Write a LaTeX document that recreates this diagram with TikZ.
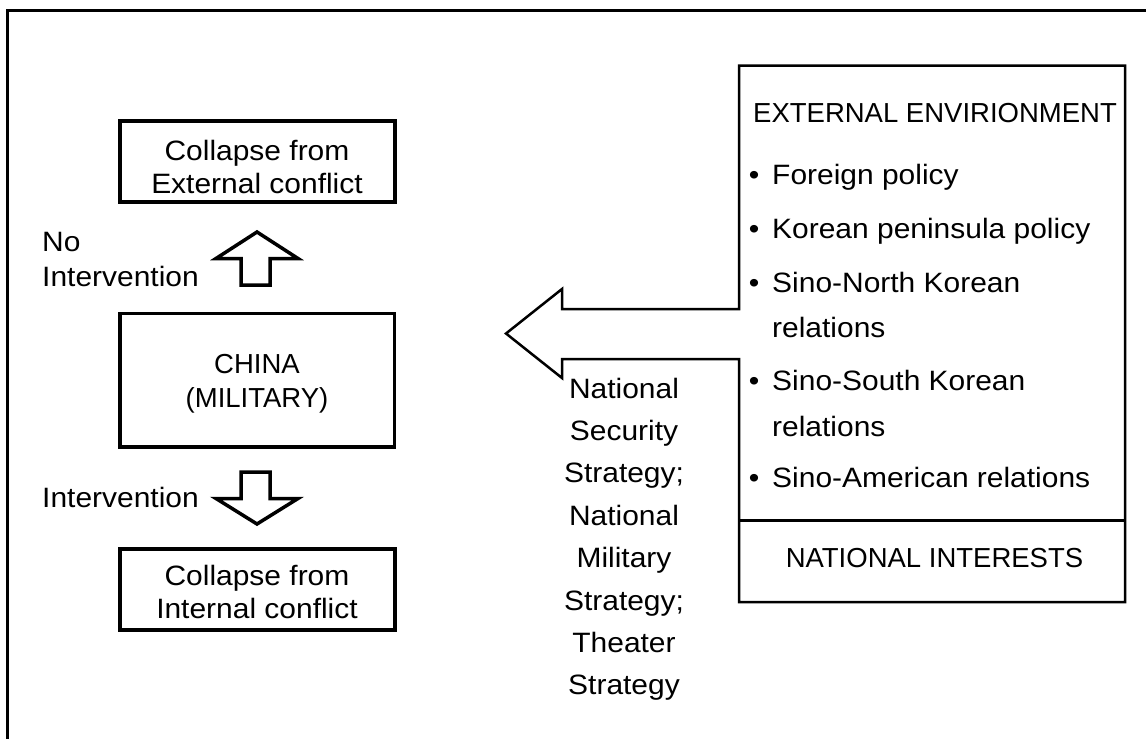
\documentclass[tikz,border=0pt]{standalone}
\usepackage{fontspec}
\setmainfont{Liberation Sans}
\newfontfamily\widefont[FakeStretch=1.07]{Liberation Sans}
\begin{document}
\begin{tikzpicture}[x=1pt,y=-1pt,
  capsf/.style={font=\fontsize{27.5}{34}\selectfont},
  wordf/.style={font=\widefont\fontsize{28}{33}\selectfont},
  stratf/.style={font=\widefont\fontsize{28}{42.4}\selectfont},
  outcome/.style={draw, line width=4pt, minimum width=275pt, minimum height=81pt,
    inner sep=0pt, align=center, text depth=0pt, wordf},
  chinabox/.style={draw, line width=3.5pt, minimum width=274.5pt, minimum height=133.5pt,
    inner sep=0pt, align=center, text depth=0pt, capsf},
  blockarrow/.style={draw, line width=3.5pt, line join=miter},
  envline/.style={draw, line width=2.5pt, line join=miter},
  listitem/.style={wordf, anchor=base west, inner sep=0pt},
  bulletdot/.style={wordf, anchor=base, inner sep=0pt},
  sidelabel/.style={wordf, font=\widefont\fontsize{28}{35}\selectfont, align=left,
    anchor=south west, inner sep=0pt, text depth=0pt},
]
\useasboundingbox (0,0) rectangle (1146,739);
% frame (top and left only)
\draw[line width=3pt] (7,739) -- (7,10) -- (1146,10);

% left column
\node[outcome, text height=63pt] (ext) at (257,161.5) {Collapse from\\External conflict};
\node[chinabox, text height=54pt] (china) at (257,380) {CHINA\\(MILITARY)};
\node[outcome, text height=57pt] (int) at (257,589.5) {Collapse from\\Internal conflict};

\draw[blockarrow] (257,232) -- (298,258.5) -- (270,258.5) -- (270,285) -- (241,285)
  -- (241,258.5) -- (216,258.5) -- cycle;
\draw[blockarrow] (241,472) -- (270,472) -- (270,498.5) -- (298,498.5) -- (257,524)
  -- (216,498.5) -- (241,498.5) -- cycle;

\node[sidelabel] (noint) at (42,287) {No\\Intervention};
\node[sidelabel] (inter) at (42,508) {Intervention};

% environment box joined with the big arrow
\draw[envline] (739,359) -- (739,602) -- (1125,602) -- (1125,65.5) -- (739,65.5) -- (739,309)
  -- (562,309) -- (562,289) -- (506,333.5) -- (562,378) -- (562,359) -- cycle;
\draw[line width=3.5pt] (739,520.5) -- (1125,520.5);

\node[capsf, anchor=base, inner sep=0pt] (envtitle) at (935,122) {EXTERNAL ENVIRIONMENT};
\node[bulletdot] (b1) at (754,184) {•};
\node[listitem] (t1) at (772,184) {Foreign policy};
\node[bulletdot] (b2) at (754,238) {•};
\node[listitem] (t2) at (772,238) {Korean peninsula policy};
\node[bulletdot] (b3) at (754,292) {•};
\node[listitem] (t3) at (772,292) {Sino-North Korean};
\node[listitem] (t3b) at (772,337) {relations};
\node[bulletdot] (b4) at (754,390) {•};
\node[listitem] (t4) at (772,390) {Sino-South Korean};
\node[listitem] (t4b) at (772,436) {relations};
\node[bulletdot] (b5) at (754,487) {•};
\node[listitem] (t5) at (772,487) {Sino-American relations};
\node[capsf, anchor=base, inner sep=0pt] (natint) at (934.5,567) {NATIONAL INTERESTS};

% strategy text
\node[stratf, align=center, anchor=south, inner sep=0pt, text depth=0pt] (strat) at (624,695)
  {National\\Security\\Strategy;\\National\\Military\\Strategy;\\Theater\\Strategy};
\end{tikzpicture}
\end{document}
